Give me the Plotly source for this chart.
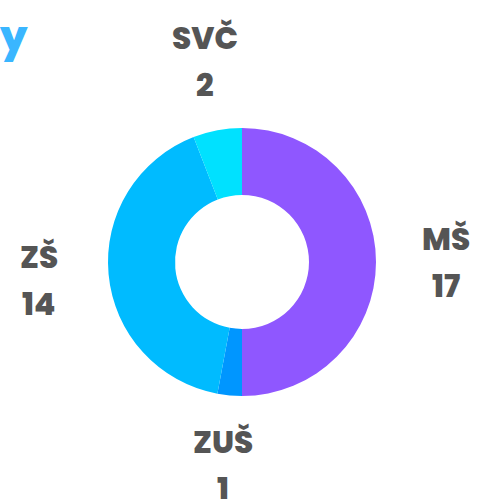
import math
import plotly.graph_objects as go

# School types and their counts
categories = ["MŠ", "ZUŠ", "ZŠ", "SVČ"]
counts = [17, 1, 14, 2]
colors = ["#8f57ff", "#0096ff", "#00bbff", "#00e1ff"]

W, H = 477, 499
cx, cy, R = 242, 262, 134       # donut centre and outer radius (px)
label_r = 204                   # distance of the outside labels from the centre
font_family = "Poppins, Inter, 'Open Sans', sans-serif"
label_color = "#555555"

fig = go.Figure(go.Pie(
    labels=categories,
    values=counts,
    hole=0.5,
    sort=False,
    direction="clockwise",
    rotation=0,
    marker=dict(colors=colors, line=dict(width=0)),
    textinfo="none",
    hoverinfo="label+value",
    domain=dict(x=[(cx - R) / W, (cx + R) / W],
                y=[(H - cy - R) / H, (H - cy + R) / H]),
    showlegend=False,
))

# Labels placed radially at the middle angle of each slice
total = sum(counts)
annotations = []
acc = 0
for name, val in zip(categories, counts):
    mid = (acc + val / 2) / total * 2 * math.pi
    acc += val
    px = cx + label_r * math.sin(mid)
    py = cy - label_r * math.cos(mid)
    for txt, dy in ((name, -23.5), (str(val), 23.5)):
        annotations.append(dict(
            x=px / W, y=1 - (py + dy) / H, xref="paper", yref="paper",
            text=txt, showarrow=False, xanchor="center", yanchor="middle",
            font=dict(family=font_family, size=31, color=label_color, weight=800),
        ))

# Title fragment at the top-left corner
annotations.append(dict(
    x=-3 / W, y=1 - 37 / H, xref="paper", yref="paper",
    text="y", showarrow=False, xanchor="left", yanchor="middle",
    font=dict(family=font_family, size=42, color="#3ab6ff", weight=800),
))

fig.update_layout(
    width=W, height=H,
    margin=dict(l=0, r=0, t=0, b=0),
    paper_bgcolor="white",
    plot_bgcolor="white",
    annotations=annotations,
)

fig.write_html("out.html")
